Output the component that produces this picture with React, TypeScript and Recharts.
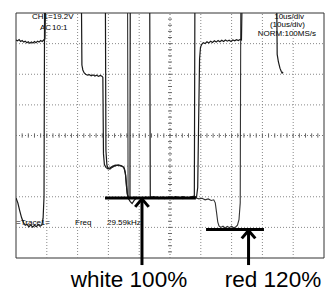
import React from 'react';
import { ComposedChart, Line, XAxis, YAxis, ReferenceLine, ReferenceArea } from 'recharts';

type Pt = [number, number | null];

// time in microseconds (10 us/div), level in divisions from the centre line
const timeDomain: [number, number] = [0, 100];
const levelDomain: [number, number] = [-4, 4];

const sweepA: Pt[] = [
  [0, 3.12], [0.5, 3.09], [1.0, 3.13], [1.5, 3.07], [2.0, 3.1], [2.5, 3.05], [3.0, 3.08], [3.5, 3.03],
  [4.0, 3.06], [4.5, 3.01], [5.0, 3.05], [5.5, 3.02], [6.0, 3.07], [6.5, 3.03], [7.0, 3.08], [7.5, 3.05],
  [8.0, 3.1], [8.5, 3.07], [9.0, 3.12], [9.4, 3.15], [9.7, 5],
  [21.2, 5], [21.4, 2.3], [21.7, 2.14], [22.1, 2.05], [22.6, 2.0], [23.2, 1.97], [23.8, 1.99], [24.4, 1.95],
  [25.0, 1.98], [25.6, 1.94], [26.2, 1.97], [26.8, 1.93], [27.4, 1.96], [28.0, 1.93], [28.2, 1.9],
  [28.4, -0.6], [28.7, -0.95], [29.2, -1.04], [29.8, -1.09], [30.4, -1.06], [31.2, -1.01], [32.2, -0.97],
  [33.4, -0.98], [34.6, -1.01], [35.2, -1.08], [35.6, -1.3], [35.9, -1.7], [36.2, -1.95], [36.6, -2.06],
  [37.0, -2.04], [37.1, 5],
  [43.4, 5], [43.6, -1.98], [44.2, -2.05], [45.2, -2.02], [46.4, -2.06], [47.6, -2.01], [48.8, -2.05],
  [50.0, -2.02], [51.2, -2.06], [52.4, -2.01], [53.6, -2.05], [54.8, -2.02], [56.0, -2.05], [57.2, -2.01],
  [57.9, -2.04], [58.1, 5],
];

const sweepB: Pt[] = [
  [0, -2.04], [0.6, -2.2], [1.2, -2.45], [1.8, -2.68], [2.4, -2.84], [3.0, -2.93], [3.6, -2.9], [4.2, -2.98],
  [4.8, -2.92], [5.4, -2.99], [6.0, -2.93], [6.6, -2.98], [7.2, -2.91], [7.8, -2.96], [8.4, -2.92],
  [8.8, -2.7], [9.1, -2.0], [9.3, 5],
  [29.0, 5], [29.2, -0.5], [29.5, -0.95], [29.9, -1.08], [30.5, -1.1], [31.2, -1.04], [32.2, -0.99],
  [33.2, -0.96], [34.3, -0.99], [35.0, -1.04], [35.5, -1.22], [35.8, -1.55], [36.1, -1.88], [36.5, -2.06],
  [37.1, -2.16], [37.7, -2.22], [38.3, -2.13], [38.9, -2.06], [39.8, -2.02], [41.0, -2.06], [42.2, -2.01],
  [43.4, -2.05], [44.6, -2.0], [45.8, -2.05], [47.0, -2.02], [48.2, -2.06], [49.4, -2.01], [50.6, -2.05],
  [51.8, -2.0], [53.0, -2.04], [54.2, -2.0], [55.4, -2.05], [56.6, -2.01], [57.8, -1.98], [58.6, -2.02],
  [59.0, -1.7], [59.3, 0.5], [59.6, 2.5], [59.9, 2.88], [60.3, 2.98], [60.8, 3.03], [61.4, 3.0], [62.0, 3.06],
  [62.6, 3.02], [63.2, 3.08], [63.8, 3.04], [64.4, 3.09], [65.0, 3.05], [65.6, 3.1], [66.2, 3.06],
  [66.8, 3.11], [67.4, 3.07], [68.0, 3.12], [68.6, 3.08], [69.2, 3.11], [69.8, 3.07], [70.4, 3.12],
  [71.0, 3.09], [71.6, 3.13], [72.2, 3.1], [72.8, 3.14], [73.2, 3.12], [73.5, 5],
  [84.6, 5], [84.8, 2.65], [85.2, 2.4], [85.7, 2.2], [86.1, 2.1], [86.4, 2.04], [86.7, 2.08],
];

const sweepC: Pt[] = [
  [36.2, 5], [36.4, -2.0], [37.4, -2.05], [38.6, -2.01], [39.8, -2.05], [41.0, -2.02], [42.2, -2.05],
  [43.4, -2.01], [44.6, -2.04], [45.8, -2.0], [47.0, -2.05], [48.2, -2.02], [49.4, -2.05], [50.6, -2.01],
  [51.8, -2.04], [53.0, -2.02], [54.2, -2.06], [55.4, -2.02], [56.6, -2.05], [57.8, -2.02], [58.4, -2.04],
  [59.4, -2.07], [60.4, -2.05], [61.4, -2.1], [62.4, -2.07], [63.4, -2.12], [64.2, -2.1], [64.7, -2.2],
  [65.1, -2.5], [65.5, -2.82], [65.9, -2.95], [66.5, -3.0], [67.2, -2.96], [67.9, -3.02], [68.6, -2.97],
  [69.3, -3.01], [70.0, -2.96], [70.7, -3.02], [71.4, -2.98], [71.9, -2.93], [72.4, -2.75], [72.8, -2.2],
  [73.0, 5],
];

// graticule
const gridTimes = [10, 20, 30, 40, 60, 70, 80, 90];
const gridLevels = [-3, -2, -1, 1, 2, 3];
const centreTime = 50;
const centreLevel = 0;
const minorTimeTicks = Array.from({ length: 49 }, (_, i) => (i + 1) * 2);
const minorLevelTicks = Array.from({ length: 39 }, (_, i) => -3.8 + i * 0.2);

// annotations
const whiteMarker = { from: 28.9, to: 58.4, level: -2.04, arrowAt: 40.9, label: 'white 100%' };
const redMarker = { from: 61.7, to: 80.5, level: -3.07, arrowAt: 75.5, label: 'red 120%' };
const arrowBottom = -4.23;

const rows = (pts: Pt[]) => pts.map(([t, v]) => ({ t, v }));

const tickRows = () => {
  const out: { t: number; v: number | null }[] = [];
  minorTimeTicks.forEach((t) => {
    out.push({ t, v: centreLevel - 0.07 }, { t, v: centreLevel + 0.07 }, { t, v: null });
  });
  minorLevelTicks.forEach((lv) => {
    out.push({ t: centreTime - 0.65, v: lv }, { t: centreTime + 0.65, v: lv }, { t: centreTime, v: null });
  });
  return out;
};

const scopeFont = 'Liberation Sans, Arial, sans-serif';

export default function App() {
  const markers = [whiteMarker, redMarker];
  return (
    <div style={{ position: 'absolute', left: 0, top: 0, width: 334, height: 291, background: '#fff' }}>
      <ComposedChart width={334} height={291} margin={{ top: 13, right: 10, bottom: 33, left: 16 }}>
        <XAxis type="number" dataKey="t" domain={timeDomain} hide allowDataOverflow />
        <YAxis type="number" dataKey="v" domain={levelDomain} hide allowDataOverflow />
        {gridTimes.map((t) => (
          <ReferenceLine key={'gx' + t} x={t} stroke="#888" strokeDasharray="1 2" strokeWidth={1} />
        ))}
        {gridLevels.map((v) => (
          <ReferenceLine key={'gy' + v} y={v} stroke="#888" strokeDasharray="1 2" strokeWidth={1} />
        ))}
        <ReferenceLine x={centreTime} stroke="#777" strokeDasharray="1 2" strokeWidth={1} />
        <ReferenceLine y={centreLevel} stroke="#777" strokeDasharray="1 2" strokeWidth={1} />
        <Line data={tickRows()} dataKey="v" stroke="#666" strokeWidth={1} dot={false} isAnimationActive={false} connectNulls={false} />
        <ReferenceArea x1={timeDomain[0]} x2={timeDomain[1]} y1={levelDomain[0]} y2={levelDomain[1]} fill="none" stroke="#333" strokeWidth={1} fillOpacity={0} />
        <Line data={rows(sweepC)} dataKey="v" stroke="#333" strokeWidth={1.1} dot={false} isAnimationActive={false} />
        <Line data={rows(sweepB)} dataKey="v" stroke="#1a1a1a" strokeWidth={1.2} dot={false} isAnimationActive={false} />
        <Line data={rows(sweepA)} dataKey="v" stroke="#1a1a1a" strokeWidth={1.2} dot={false} isAnimationActive={false} />
        {markers.map((m) => (
          <ReferenceLine key={'bar' + m.label} segment={[{ x: m.from, y: m.level }, { x: m.to, y: m.level }]} stroke="#000" strokeWidth={3} ifOverflow="visible" />
        ))}
        {markers.map((m) => (
          <ReferenceLine key={'shaft' + m.label} segment={[{ x: m.arrowAt, y: arrowBottom }, { x: m.arrowAt, y: m.level - 0.05 }]} stroke="#000" strokeWidth={3} ifOverflow="visible" />
        ))}
        {markers.map((m) => (
          <ReferenceLine key={'hl' + m.label} segment={[{ x: m.arrowAt - 2.2, y: m.level - 0.29 }, { x: m.arrowAt, y: m.level - 0.03 }]} stroke="#000" strokeWidth={3} ifOverflow="visible" />
        ))}
        {markers.map((m) => (
          <ReferenceLine key={'hr' + m.label} segment={[{ x: m.arrowAt + 2.2, y: m.level - 0.29 }, { x: m.arrowAt, y: m.level - 0.03 }]} stroke="#000" strokeWidth={3} ifOverflow="visible" />
        ))}
        <text x={32} y={18.5} fontSize={8} fontFamily={scopeFont} fill="#000">CH1=19.2V</text>
        <text x={40} y={29.5} fontSize={8} fontFamily={scopeFont} fill="#000">AC</text>
        <text x={52} y={29.5} fontSize={8} fontFamily={scopeFont} fill="#000">10:1</text>
        <text x={304} y={18.5} fontSize={8} fontFamily={scopeFont} fill="#000" textAnchor="end">10us/div</text>
        <text x={305} y={26.5} fontSize={8} fontFamily={scopeFont} fill="#000" textAnchor="end">(10us/div)</text>
        <text x={316} y={36} fontSize={8} fontFamily={scopeFont} fill="#000" textAnchor="end">NORM:100MS/s</text>
        <text x={16} y={225} fontSize={8} fontFamily={scopeFont} fill="#000">=Trace1=</text>
        <text x={75} y={225} fontSize={8} fontFamily={scopeFont} fill="#000">Freq</text>
        <text x={107} y={225} fontSize={8} fontFamily={scopeFont} fill="#000">29.59kHz</text>
        <text x={129} y={287} fontSize={22.5} fontFamily={scopeFont} fill="#000" textAnchor="middle">{whiteMarker.label}</text>
        <text x={273} y={287} fontSize={22.5} fontFamily={scopeFont} fill="#000" textAnchor="middle">{redMarker.label}</text>
      </ComposedChart>
    </div>
  );
}
